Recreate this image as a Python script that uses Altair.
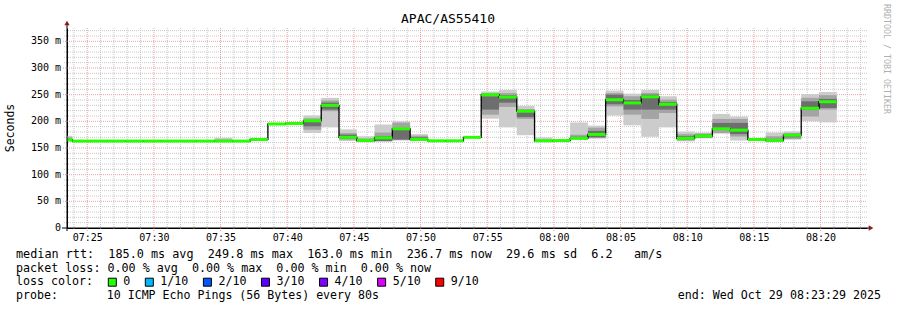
import altair as alt
import pandas as pd

MONO = "DejaVu Sans Mono"

title_text = "APAC/AS55410"
start_time = "07:23:29"
end_time = "08:23:29"
first_step_end = "07:23:53"
probe_interval_s = 80

# median rtt per 80 s step (ms)
median = [165, 163, 163, 163, 163, 163, 163, 163, 163, 163, 163,
          166, 195, 196, 201, 230, 170, 164, 169, 186, 166, 163.5, 163.5, 170,
          249.8, 245.5, 219, 163.5, 164, 168, 175.5, 240.5, 234.5, 246, 232, 168,
          172.5, 186, 183.5, 166, 164, 174, 224.5, 236.7]
# smoke: outer band (lightest)
lo1 = [163, 162.5, 162.5, 162.5, 162.5, 162.5, 162.5, 162.5, 162.5, 162, 162.5,
       165, 194, 195, 178, 188.7, 163, 161, 162.5, 164, 165, 162.5, 162.5, 169,
       205, 188.7, 174, 162.5, 163, 167, 167.5, 210.7, 192.5, 171, 188.7, 162.5,
       168, 177, 164, 164, 162.5, 165.6, 200, 198]
hi1 = [173, 163.5, 163.5, 163.5, 163.5, 163.5, 163.5, 163.5, 163.5, 169, 163.5,
       167, 197, 197, 211, 244, 185, 172, 194, 200, 176, 164.5, 164.5, 171,
       256, 259, 229, 170, 165, 198, 192, 257.6, 252, 259, 247, 180.6,
       179, 214, 209, 168.7, 179, 181, 251, 255]
# middle band
lo2 = [163, 162.5, 162.5, 162.5, 162.5, 162.5, 162.5, 162.5, 162.5, 162.5, 162.5,
       165, 194.5, 195.5, 184, 219, 165.6, 162, 162.5, 166, 165.5, 162.5, 162.5, 169,
       212.5, 227, 204.5, 162.5, 163, 167, 169, 228, 212.5, 204.5, 215.7, 164,
       169, 178, 171.5, 165, 163, 167, 209, 222]
hi2 = [170, 163.5, 163.5, 163.5, 163.5, 163.5, 163.5, 163.5, 163.5, 166, 163.5,
       167, 196.5, 196.5, 206, 239, 178, 168, 179, 197.6, 173, 164.5, 164.5, 171,
       253, 253, 223, 166, 165, 175, 188, 253, 247, 253, 240.7, 176,
       177, 204.5, 204.5, 168, 172, 178, 244, 249]
# inner band (darkest)
lo3 = [164, 162.5, 162.5, 162.5, 162.5, 162.5, 162.5, 162.5, 162.5, 163, 162.5,
       165.5, 195, 195.5, 190.6, 222, 167, 163, 163, 165.6, 166, 162.5, 162.5, 169.5,
       222, 235, 208, 163, 163, 167, 170, 232, 222, 222, 222, 165,
       170, 184, 176, 165.5, 163.5, 170, 222, 225]
hi3 = [167, 163.5, 163.5, 163.5, 163.5, 163.5, 163.5, 163.5, 163.5, 164, 163.5,
       166.5, 196, 196.5, 200, 235, 175, 166, 172, 187.6, 170, 164.5, 164.5, 170.5,
       247, 249, 220, 165, 165, 171, 182, 250, 240, 250, 236, 172,
       175, 197, 197, 167, 167, 176, 237.5, 242]

y_ticks = [0, 50, 100, 150, 200, 250, 300, 350]
y_tick_labels = ["0", "50 m", "100 m", "150 m", "200 m", "250 m", "300 m", "350 m"]
x_tick_minutes = [25, 30, 35, 40, 45, 50, 55, 60, 65, 70, 75, 80]  # minutes after 07:00

legend_lines = [
    "median rtt:  185.0 ms avg  249.8 ms max  163.0 ms min  236.7 ms now  29.6 ms sd  6.2   am/s",
    "packet loss: 0.00 % avg  0.00 % max  0.00 % min  0.00 % now",
    "loss color:",
    "probe:       10 ICMP Echo Pings (56 Bytes) every 80s",
]
loss_labels = ["0", "1/10", "2/10", "3/10", "4/10", "5/10", "9/10"]
loss_colors = ["#26ff00", "#00b8ff", "#0059ff", "#5e00ff", "#7e00ff", "#dd00ff", "#ff0000"]
end_text = "end: Wed Oct 29 08:23:29 2025"
credit_text = "RRDTOOL / TOBI OETIKER"

NB = "\u00a0"


def keep_spaces(s):
    return s.replace(" ", NB)


def to_min(s):
    h, m, sec = map(int, s.split(":"))
    return h * 60 + m + sec / 60 - 420


x_start = to_min(start_time)
x_end = to_min(end_time)
step_min = probe_interval_s / 60
n = len(median)
ends = [to_min(first_step_end) + i * step_min for i in range(n)]
starts = [max(e - step_min, x_start) for e in ends]

steps = pd.DataFrame({"s": starts, "e": ends, "med": median,
                      "lo1": lo1, "hi1": hi1, "lo2": lo2, "hi2": hi2,
                      "lo3": lo3, "hi3": hi3})
line_df = pd.DataFrame({"s": starts + [ends[-1]], "med": median + [median[-1]]})

xs = alt.Scale(domain=[x_start, x_end], nice=False, zero=False)
ys = alt.Scale(domain=[0, 375], nice=False, zero=True)

x_axis = alt.Axis(values=x_tick_minutes, title=None, grid=False, ticks=False,
                  domain=True, domainColor="#000000", domainWidth=1,
                  labelFont=MONO, labelFontSize=10, labelColor="#000000",
                  labelPadding=4, labelOverlap=False, labelFlush=False, labelBound=False,
                  labelExpr="'0' + (7 + floor(datum.value/60)) + ':' + (datum.value % 60 < 10 ? '0' : '') + (datum.value % 60)")
y_axis = alt.Axis(values=y_ticks, title=None, grid=False, ticks=False, labels=False,
                  domain=True, domainColor="#000000", domainWidth=1)


def X(field):
    return alt.X(field, scale=xs, axis=x_axis)


def Y(field):
    return alt.Y(field, scale=ys, axis=y_axis)


minor_v = pd.DataFrame({"s": [m for m in range(24, 84) if m % 5 != 0]})
major_v = pd.DataFrame({"s": [m for m in range(25, 84, 5)]})
minor_h = pd.DataFrame({"med": [v for v in range(10, 376, 10) if v % 50 != 0]})
major_h = pd.DataFrame({"med": [v for v in range(50, 376, 50)]})

MINOR = "#c8c8c8"
MAJOR = "#eba0a0"

g1 = alt.Chart(minor_v).mark_rule(color=MINOR, strokeDash=[1, 1], strokeWidth=1).encode(
    x=X("s:Q"), y=alt.value(0), y2=alt.value(202))
g2 = alt.Chart(minor_h).mark_rule(color=MINOR, strokeDash=[1, 1], strokeWidth=1).encode(
    y=Y("med:Q"), x=alt.value(-3), x2=alt.value(800))
g3 = alt.Chart(major_v).mark_rule(color=MAJOR, strokeDash=[1, 1], strokeWidth=1).encode(
    x=X("s:Q"), y=alt.value(0), y2=alt.value(203))
g4 = alt.Chart(major_h).mark_rule(color=MAJOR, strokeDash=[1, 1], strokeWidth=1).encode(
    y=Y("med:Q"), x=alt.value(-4), x2=alt.value(800))

base = alt.Chart(steps)
band1 = base.mark_rect(color="#cccccc").encode(
    x=X("s:Q"), x2="e:Q", y=Y("lo1:Q"), y2="hi1:Q")
band2 = base.mark_rect(color="#a4a4a4").encode(
    x=X("s:Q"), x2="e:Q", y=Y("lo2:Q"), y2="hi2:Q")
band3 = base.mark_rect(color="#6e6e6e").encode(
    x=X("s:Q"), x2="e:Q", y=Y("lo3:Q"), y2="hi3:Q")

med_line = alt.Chart(line_df).mark_line(interpolate="step-after", color="#000000",
                                        strokeWidth=1.3).encode(
    x=X("s:Q"), y=Y("med:Q"))
med_green = base.mark_rule(color="#26ff00", strokeWidth=3).encode(
    x=X("s:Q"), x2="e:Q", y=Y("med:Q"))

# y tick labels
ylab_df = pd.DataFrame({"med": y_ticks, "t": [keep_spaces(s) for s in y_tick_labels]})
ylabels = alt.Chart(ylab_df).mark_text(
    font=MONO, fontSize=10, align="right", baseline="middle", color="#000000").encode(
    y=Y("med:Q"), x=alt.value(-6), text="t:N")

# axis extensions and arrows
ext = alt.Chart(pd.DataFrame({"k": [0]}))
ext_y = ext.mark_rule(color="#000000", strokeWidth=1).encode(
    x=alt.value(0), y=alt.value(-5), y2=alt.value(203))
ext_x = ext.mark_rule(color="#000000", strokeWidth=1).encode(
    x=alt.value(-5), x2=alt.value(803), y=alt.value(200))
arrow_up = ext.mark_point(shape="triangle-up", filled=True, color="#8b1a1a", size=28, opacity=1).encode(
    x=alt.value(0), y=alt.value(-5))
arrow_right = ext.mark_point(shape="triangle-right", filled=True, color="#8b1a1a", size=28, opacity=1).encode(
    x=alt.value(804), y=alt.value(200))

# texts
title = alt.Chart(pd.DataFrame({"t": [title_text]})).mark_text(
    font=MONO, fontSize=13, align="center", baseline="middle", color="#000000").encode(
    x=alt.value(381), y=alt.value(-9), text="t:N")
ylabel = alt.Chart(pd.DataFrame({"t": ["Seconds"]})).mark_text(
    font=MONO, fontSize=11.5, align="center", baseline="middle", angle=270, color="#000000").encode(
    x=alt.value(-56), y=alt.value(100), text="t:N")
credit = alt.Chart(pd.DataFrame({"t": [keep_spaces(credit_text)]})).mark_text(
    font=MONO, fontSize=8.3, align="left", baseline="middle", angle=90, color="#b0b0b0").encode(
    x=alt.value(819), y=alt.value(-24), text="t:N")

leg_df = pd.DataFrame({"t": [keep_spaces(s) for s in legend_lines],
                       "i": list(range(len(legend_lines))),
                       "fs": [11.8, 11.7, 11.65, 11.6]})
leg_df["py"] = 226.3 + 14 * leg_df["i"]
legend_text = alt.Chart(leg_df).mark_text(
    font=MONO, align="left", baseline="middle", color="#000000").encode(
    x=alt.value(-51), y=alt.Y("py:Q", scale=None), text="t:N",
    size=alt.Size("fs:Q", scale=None))

box_x, text_x = [], []
p = 108.3
for lab in loss_labels:
    box_x.append(p + 4 - 67)
    text_x.append(p + 15 - 67)
    p = p + 15 + len(lab) * 7.02 + 15
loss_df = pd.DataFrame({"lab": loss_labels, "col": loss_colors, "bx": box_x, "tx": text_x})
loss_boxes = alt.Chart(loss_df).mark_square(size=64, stroke="#000000", strokeWidth=1,
                                            opacity=1, filled=True).encode(
    x=alt.X("bx:Q", scale=None), y=alt.value(254.2),
    color=alt.Color("col:N", scale=None))
loss_text = alt.Chart(loss_df).mark_text(
    font=MONO, fontSize=11.65, align="left", baseline="middle", color="#000000").encode(
    x=alt.X("tx:Q", scale=None), y=alt.value(254.3), text="lab:N")
end_lbl = alt.Chart(pd.DataFrame({"t": [keep_spaces(end_text)]})).mark_text(
    font=MONO, fontSize=11.65, align="right", baseline="middle", color="#000000").encode(
    x=alt.value(814), y=alt.value(268.2), text="t:N")

chart = alt.layer(
    g1, g2, g3, g4, band1, band2, band3, med_line, med_green, ylabels,
    ext_y, ext_x, arrow_up, arrow_right,
    title, ylabel, credit, legend_text, loss_boxes, loss_text, end_lbl,
).properties(
    width=800, height=200,
    padding={"left": 67, "top": 28, "right": 30, "bottom": 82},
    autosize=alt.AutoSizeParams(type="none"),
    background="#ffffff",
).configure_view(stroke=None)

chart.save("out.html", embed_options={"renderer": "svg", "actions": False})
